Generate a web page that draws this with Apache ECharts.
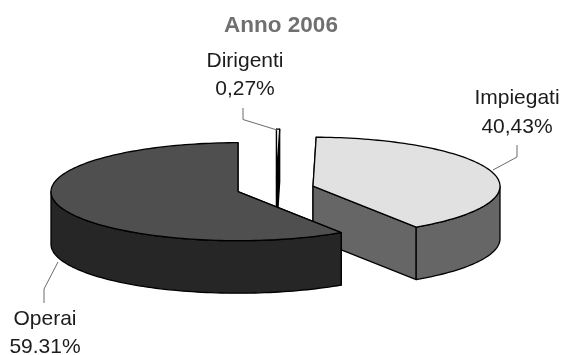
<!DOCTYPE html>
<html>
<head>
<meta charset="utf-8">
<style>html,body{margin:0;padding:0;background:#fff}#c{width:562px;height:355px}</style>
<script src="https://cdn.jsdelivr.net/npm/echarts@6/dist/echarts.min.js"></script>
</head>
<body>
<div id="c"></div>
<script>
// Workforce by role, 2006
const chartTitle = 'Anno 2006';
const categories = ['Dirigenti', 'Impiegati', 'Operai'];
const shares = [0.27, 40.43, 59.31];
const shareLabels = ['0,27%', '40,43%', '59.31%'];

// Tilted-disc projection
const disc = { cx: 238, cy: 191.7, rx: 187, ry: 49, depth: 52.5 };
const sliceShift = [[38.5, -13.5], [75, -5.5], [0, 0]];
const topColors = ['#ffffff', '#e1e1e1', '#4f4f4f'];
const sideColors = ['#000000', '#666666', '#262626'];
const labelCenters = [[245, 61, 89], [517, 98, 127], [45, 319, 347]];
const leaderPaths = [
  [[243, 108], [243, 119.5], [277, 130]],
  [[517, 145], [517, 157], [493, 170]],
  [[58, 262], [44, 289], [44, 303]]
];

const total = shares.reduce((a, b) => a + b, 0);
const starts = shares.map((_, i) => shares.slice(0, i).reduce((a, b) => a + b, 0) / total * 360);

// Degrees clockwise from 12 o'clock, onto the tilted top face
function project(deg, ox, oy) {
  const t = deg * Math.PI / 180;
  return [ox + disc.rx * Math.sin(t), oy - disc.ry * Math.cos(t)];
}
function arc(from, to, ox, oy) {
  const pts = [];
  const n = Math.max(1, Math.ceil((to - from) / 1.5));
  for (let k = 0; k <= n; k++) pts.push(project(from + (to - from) * k / n, ox, oy));
  return pts;
}
const down = p => [p[0], p[1] + disc.depth];
const outline = { stroke: '#000', lineWidth: 1.3, lineJoin: 'round' };

function face(points, fill) {
  return { type: 'polygon', shape: { points }, style: Object.assign({ fill }, outline) };
}

function renderSlice(params, api) {
  const i = params.dataIndex;
  const from = starts[i];
  const to = from + api.value(0) / total * 360;
  const ox = disc.cx + sliceShift[i][0];
  const oy = disc.cy + sliceShift[i][1];
  const apex = [ox, oy];
  const a = project(from, ox, oy);
  const b = project(to, ox, oy);
  const children = [
    face([apex, a, down(a), down(apex)], sideColors[i]),
    face([apex, b, down(b), down(apex)], sideColors[i])
  ];
  // Outer wall only where the rim faces the viewer
  const wf = Math.max(from, 90), wt = Math.min(to, 270);
  if (wt > wf) {
    const rim = arc(wf, wt, ox, oy);
    children.push(face(rim.concat(rim.slice().reverse().map(down)), sideColors[i]));
  }
  children.push(face([apex].concat(arc(from, to, ox, oy)), topColors[i]));
  return { type: 'group', children };
}

const labelFont = '"Liberation Sans", Arial, sans-serif';
const graphics = [];
categories.forEach((name, i) => {
  graphics.push({
    type: 'polyline', z: 5, shape: { points: leaderPaths[i] },
    style: { stroke: '#6a6a6a', lineWidth: 1, fill: null }
  });
  [name, shareLabels[i]].forEach((txt, k) => {
    graphics.push({
      type: 'text', z: 5, x: labelCenters[i][0], y: labelCenters[i][k + 1],
      style: { text: txt, font: '21px ' + labelFont, fill: '#1c1c1c', align: 'center', verticalAlign: 'middle' }
    });
  });
});

const chart = echarts.init(document.getElementById('c'), null, { renderer: 'canvas' });
chart.setOption({
  animation: false,
  backgroundColor: '#ffffff',
  title: {
    text: chartTitle, left: 276, top: 9, textAlign: 'center',
    textStyle: { fontFamily: labelFont, fontSize: 22.5, fontWeight: 'bold', color: '#707070' }
  },
  series: [{
    type: 'custom',
    coordinateSystem: 'none',
    silent: true,
    renderItem: renderSlice,
    data: shares.map(v => [v]),
    clip: false
  }],
  graphic: graphics
});
</script>
</body>
</html>
